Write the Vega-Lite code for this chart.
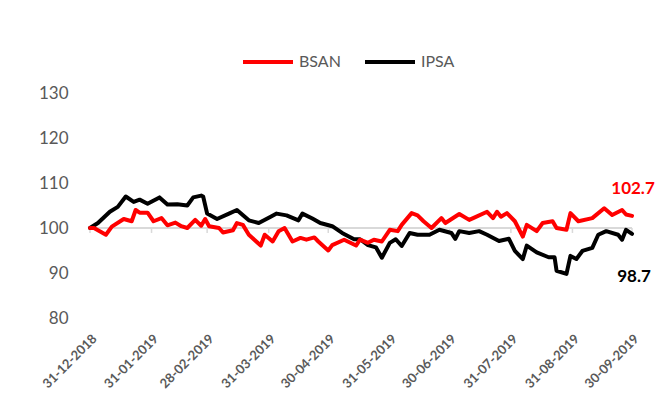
{
  "$schema": "https://vega.github.io/schema/vega-lite/v6.json",
  "width": 542,
  "height": 225,
  "autosize": {"type": "none"},
  "padding": {"left": 90, "top": 93, "right": 24, "bottom": 99},
  "background": "white",
  "config": {
    "font": "Lato",
    "view": {"stroke": null}
  },
  "datasets": {
    "series": [
      {"date": "2018-12-31", "series": "IPSA", "value": 100},
      {"date": "2019-01-04", "series": "IPSA", "value": 101.1},
      {"date": "2019-01-10", "series": "IPSA", "value": 103.6},
      {"date": "2019-01-14", "series": "IPSA", "value": 104.7},
      {"date": "2019-01-18", "series": "IPSA", "value": 107.0},
      {"date": "2019-01-22", "series": "IPSA", "value": 105.8},
      {"date": "2019-01-25", "series": "IPSA", "value": 106.3},
      {"date": "2019-01-29", "series": "IPSA", "value": 105.4},
      {"date": "2019-02-04", "series": "IPSA", "value": 106.8},
      {"date": "2019-02-08", "series": "IPSA", "value": 105.2},
      {"date": "2019-02-13", "series": "IPSA", "value": 105.3},
      {"date": "2019-02-18", "series": "IPSA", "value": 105.0},
      {"date": "2019-02-21", "series": "IPSA", "value": 106.8},
      {"date": "2019-02-25", "series": "IPSA", "value": 107.2},
      {"date": "2019-02-26", "series": "IPSA", "value": 107.0},
      {"date": "2019-02-28", "series": "IPSA", "value": 103.2},
      {"date": "2019-03-05", "series": "IPSA", "value": 102.0},
      {"date": "2019-03-11", "series": "IPSA", "value": 103.2},
      {"date": "2019-03-15", "series": "IPSA", "value": 104.0},
      {"date": "2019-03-21", "series": "IPSA", "value": 101.7},
      {"date": "2019-03-26", "series": "IPSA", "value": 101.1},
      {"date": "2019-04-01", "series": "IPSA", "value": 102.5},
      {"date": "2019-04-04", "series": "IPSA", "value": 103.2},
      {"date": "2019-04-09", "series": "IPSA", "value": 102.8},
      {"date": "2019-04-15", "series": "IPSA", "value": 101.7},
      {"date": "2019-04-17", "series": "IPSA", "value": 103.2},
      {"date": "2019-04-22", "series": "IPSA", "value": 102.1},
      {"date": "2019-04-26", "series": "IPSA", "value": 101.1},
      {"date": "2019-05-02", "series": "IPSA", "value": 100.4},
      {"date": "2019-05-07", "series": "IPSA", "value": 98.9},
      {"date": "2019-05-13", "series": "IPSA", "value": 97.5},
      {"date": "2019-05-16", "series": "IPSA", "value": 97.5},
      {"date": "2019-05-20", "series": "IPSA", "value": 96.2},
      {"date": "2019-05-24", "series": "IPSA", "value": 95.7},
      {"date": "2019-05-27", "series": "IPSA", "value": 93.4},
      {"date": "2019-05-31", "series": "IPSA", "value": 96.7},
      {"date": "2019-06-03", "series": "IPSA", "value": 97.5},
      {"date": "2019-06-06", "series": "IPSA", "value": 96.0},
      {"date": "2019-06-10", "series": "IPSA", "value": 98.9},
      {"date": "2019-06-14", "series": "IPSA", "value": 98.5},
      {"date": "2019-06-20", "series": "IPSA", "value": 98.5},
      {"date": "2019-06-25", "series": "IPSA", "value": 99.6},
      {"date": "2019-07-01", "series": "IPSA", "value": 98.9},
      {"date": "2019-07-03", "series": "IPSA", "value": 97.6},
      {"date": "2019-07-05", "series": "IPSA", "value": 99.3},
      {"date": "2019-07-10", "series": "IPSA", "value": 98.9},
      {"date": "2019-07-15", "series": "IPSA", "value": 99.3},
      {"date": "2019-07-19", "series": "IPSA", "value": 98.5},
      {"date": "2019-07-25", "series": "IPSA", "value": 97.1},
      {"date": "2019-07-30", "series": "IPSA", "value": 97.6},
      {"date": "2019-08-02", "series": "IPSA", "value": 94.9},
      {"date": "2019-08-06", "series": "IPSA", "value": 93.1},
      {"date": "2019-08-08", "series": "IPSA", "value": 96.1},
      {"date": "2019-08-13", "series": "IPSA", "value": 94.6},
      {"date": "2019-08-19", "series": "IPSA", "value": 93.5},
      {"date": "2019-08-22", "series": "IPSA", "value": 93.5},
      {"date": "2019-08-23", "series": "IPSA", "value": 90.5},
      {"date": "2019-08-28", "series": "IPSA", "value": 89.8},
      {"date": "2019-08-30", "series": "IPSA", "value": 93.8},
      {"date": "2019-09-02", "series": "IPSA", "value": 93.1},
      {"date": "2019-09-05", "series": "IPSA", "value": 94.9},
      {"date": "2019-09-10", "series": "IPSA", "value": 95.6},
      {"date": "2019-09-13", "series": "IPSA", "value": 98.5},
      {"date": "2019-09-17", "series": "IPSA", "value": 99.3},
      {"date": "2019-09-23", "series": "IPSA", "value": 98.5},
      {"date": "2019-09-25", "series": "IPSA", "value": 97.4},
      {"date": "2019-09-27", "series": "IPSA", "value": 99.6},
      {"date": "2019-09-30", "series": "IPSA", "value": 98.7},
      {"date": "2018-12-31", "series": "BSAN", "value": 100},
      {"date": "2019-01-02", "series": "BSAN", "value": 100},
      {"date": "2019-01-08", "series": "BSAN", "value": 98.5},
      {"date": "2019-01-11", "series": "BSAN", "value": 100.3},
      {"date": "2019-01-17", "series": "BSAN", "value": 102.0},
      {"date": "2019-01-21", "series": "BSAN", "value": 101.5},
      {"date": "2019-01-23", "series": "BSAN", "value": 104.0},
      {"date": "2019-01-25", "series": "BSAN", "value": 103.4},
      {"date": "2019-01-29", "series": "BSAN", "value": 103.4},
      {"date": "2019-02-01", "series": "BSAN", "value": 101.5},
      {"date": "2019-02-05", "series": "BSAN", "value": 102.2},
      {"date": "2019-02-08", "series": "BSAN", "value": 100.6},
      {"date": "2019-02-12", "series": "BSAN", "value": 101.2},
      {"date": "2019-02-15", "series": "BSAN", "value": 100.4},
      {"date": "2019-02-18", "series": "BSAN", "value": 100.0},
      {"date": "2019-02-22", "series": "BSAN", "value": 101.8},
      {"date": "2019-02-25", "series": "BSAN", "value": 100.5},
      {"date": "2019-02-27", "series": "BSAN", "value": 102.0},
      {"date": "2019-03-01", "series": "BSAN", "value": 100.4},
      {"date": "2019-03-06", "series": "BSAN", "value": 100.0},
      {"date": "2019-03-08", "series": "BSAN", "value": 99.0},
      {"date": "2019-03-13", "series": "BSAN", "value": 99.5},
      {"date": "2019-03-15", "series": "BSAN", "value": 101.1},
      {"date": "2019-03-18", "series": "BSAN", "value": 100.7},
      {"date": "2019-03-21", "series": "BSAN", "value": 98.5},
      {"date": "2019-03-27", "series": "BSAN", "value": 96.1},
      {"date": "2019-03-29", "series": "BSAN", "value": 98.5},
      {"date": "2019-04-02", "series": "BSAN", "value": 97.0},
      {"date": "2019-04-05", "series": "BSAN", "value": 99.3},
      {"date": "2019-04-08", "series": "BSAN", "value": 100.0},
      {"date": "2019-04-12", "series": "BSAN", "value": 97.0},
      {"date": "2019-04-16", "series": "BSAN", "value": 97.8},
      {"date": "2019-04-19", "series": "BSAN", "value": 97.4},
      {"date": "2019-04-23", "series": "BSAN", "value": 97.9},
      {"date": "2019-04-25", "series": "BSAN", "value": 97.0},
      {"date": "2019-04-30", "series": "BSAN", "value": 95.0},
      {"date": "2019-05-02", "series": "BSAN", "value": 96.2},
      {"date": "2019-05-08", "series": "BSAN", "value": 97.4},
      {"date": "2019-05-14", "series": "BSAN", "value": 96.1},
      {"date": "2019-05-16", "series": "BSAN", "value": 97.4},
      {"date": "2019-05-20", "series": "BSAN", "value": 96.7},
      {"date": "2019-05-23", "series": "BSAN", "value": 97.4},
      {"date": "2019-05-27", "series": "BSAN", "value": 97.0},
      {"date": "2019-05-31", "series": "BSAN", "value": 99.6},
      {"date": "2019-06-04", "series": "BSAN", "value": 99.3},
      {"date": "2019-06-06", "series": "BSAN", "value": 100.7},
      {"date": "2019-06-11", "series": "BSAN", "value": 103.3},
      {"date": "2019-06-14", "series": "BSAN", "value": 102.8},
      {"date": "2019-06-17", "series": "BSAN", "value": 101.5},
      {"date": "2019-06-21", "series": "BSAN", "value": 100.0},
      {"date": "2019-06-26", "series": "BSAN", "value": 102.2},
      {"date": "2019-06-28", "series": "BSAN", "value": 101.1},
      {"date": "2019-07-05", "series": "BSAN", "value": 103.1},
      {"date": "2019-07-10", "series": "BSAN", "value": 101.8},
      {"date": "2019-07-12", "series": "BSAN", "value": 102.2},
      {"date": "2019-07-19", "series": "BSAN", "value": 103.6},
      {"date": "2019-07-22", "series": "BSAN", "value": 102.2},
      {"date": "2019-07-24", "series": "BSAN", "value": 103.6},
      {"date": "2019-07-26", "series": "BSAN", "value": 102.5},
      {"date": "2019-07-29", "series": "BSAN", "value": 103.3},
      {"date": "2019-08-02", "series": "BSAN", "value": 101.5},
      {"date": "2019-08-06", "series": "BSAN", "value": 98.1},
      {"date": "2019-08-08", "series": "BSAN", "value": 100.7},
      {"date": "2019-08-13", "series": "BSAN", "value": 99.3},
      {"date": "2019-08-16", "series": "BSAN", "value": 101.1},
      {"date": "2019-08-21", "series": "BSAN", "value": 101.5},
      {"date": "2019-08-23", "series": "BSAN", "value": 100.0},
      {"date": "2019-08-28", "series": "BSAN", "value": 99.6},
      {"date": "2019-08-30", "series": "BSAN", "value": 103.3},
      {"date": "2019-09-03", "series": "BSAN", "value": 101.5},
      {"date": "2019-09-10", "series": "BSAN", "value": 102.2},
      {"date": "2019-09-16", "series": "BSAN", "value": 104.4},
      {"date": "2019-09-20", "series": "BSAN", "value": 102.9},
      {"date": "2019-09-25", "series": "BSAN", "value": 104.0},
      {"date": "2019-09-27", "series": "BSAN", "value": 103.0},
      {"date": "2019-09-30", "series": "BSAN", "value": 102.7}
    ],
    "ticks": [
      {"date": "2018-12-31"}, {"date": "2019-01-31"}, {"date": "2019-02-28"},
      {"date": "2019-03-31"}, {"date": "2019-04-30"}, {"date": "2019-05-31"},
      {"date": "2019-06-30"}, {"date": "2019-07-31"}, {"date": "2019-08-31"},
      {"date": "2019-09-30"}
    ]
  },
  "layer": [
    {
      "data": {"name": "ticks"},
      "mark": {"type": "rule", "color": "#D9D9D9", "strokeWidth": 1.5},
      "encoding": {
        "y": {"datum": 100, "type": "quantitative"}
      }
    },
    {
      "data": {"name": "ticks"},
      "mark": {"type": "rule", "color": "#D9D9D9", "strokeWidth": 1.5},
      "encoding": {
        "x": {"field": "date", "type": "temporal"},
        "y": {"datum": 100, "type": "quantitative"},
        "y2": {"datum": 98.9}
      }
    },
    {
      "data": {"name": "series"},
      "mark": {"type": "line", "strokeWidth": 4, "strokeJoin": "round", "strokeCap": "round"},
      "encoding": {
        "x": {
          "field": "date", "type": "temporal",
          "scale": {"type": "utc", "domain": [{"year": 2018, "month": 12, "date": 31, "utc": true}, {"year": 2019, "month": 9, "date": 30, "utc": true}]},
          "axis": {
            "title": null,
            "values": [
              {"year": 2018, "month": 12, "date": 31, "utc": true},
              {"year": 2019, "month": 1, "date": 31, "utc": true},
              {"year": 2019, "month": 2, "date": 28, "utc": true},
              {"year": 2019, "month": 3, "date": 31, "utc": true},
              {"year": 2019, "month": 4, "date": 30, "utc": true},
              {"year": 2019, "month": 5, "date": 31, "utc": true},
              {"year": 2019, "month": 6, "date": 30, "utc": true},
              {"year": 2019, "month": 7, "date": 31, "utc": true},
              {"year": 2019, "month": 8, "date": 31, "utc": true},
              {"year": 2019, "month": 9, "date": 30, "utc": true}
            ],
            "format": "%d-%m-%Y",
            "labelAngle": -45,
            "labelFontSize": 13,
            "labelFontWeight": "bold",
            "labelColor": "#595959",
            "labelPadding": 14,
            "domain": false,
            "ticks": false,
            "grid": false,
            "labelOverlap": false
          }
        },
        "y": {
          "field": "value", "type": "quantitative",
          "scale": {"domain": [80, 130], "nice": false, "zero": false},
          "axis": {
            "title": null,
            "values": [80, 90, 100, 110, 120, 130],
            "labelFontSize": 17,
            "labelColor": "#595959",
            "labelPadding": 22,
            "domain": false,
            "ticks": false,
            "grid": false
          }
        },
        "color": {
          "field": "series", "type": "nominal",
          "scale": {"domain": ["BSAN", "IPSA"], "range": ["#FF0000", "#000000"]},
          "legend": {
            "title": null,
            "orient": "none",
            "direction": "horizontal",
            "legendX": 151,
            "legendY": -58,
            "symbolType": "stroke",
            "symbolSize": 2500,
            "symbolStrokeWidth": 4,
            "labelFontSize": 16,
            "labelColor": "#595959",
            "labelOffset": 4,
            "columnPadding": 16
          }
        }
      }
    },
    {
      "data": {"name": "series"},
      "transform": [{"filter": "datum.series == 'BSAN' && time(datum.date) == utc(2019, 8, 30)"}],
      "mark": {"type": "text", "color": "#FF0000", "fontSize": 17, "fontWeight": "bold", "dy": -27, "dx": 1},
      "encoding": {
        "x": {"field": "date", "type": "temporal"},
        "y": {"field": "value", "type": "quantitative"},
        "text": {"field": "value", "type": "quantitative", "format": ".1f"}
      }
    },
    {
      "data": {"name": "series"},
      "transform": [{"filter": "datum.series == 'IPSA' && time(datum.date) == utc(2019, 8, 30)"}],
      "mark": {"type": "text", "color": "#000000", "fontSize": 17, "fontWeight": "bold", "dy": 43, "dx": 2},
      "encoding": {
        "x": {"field": "date", "type": "temporal"},
        "y": {"field": "value", "type": "quantitative"},
        "text": {"field": "value", "type": "quantitative", "format": ".1f"}
      }
    }
  ]
}
